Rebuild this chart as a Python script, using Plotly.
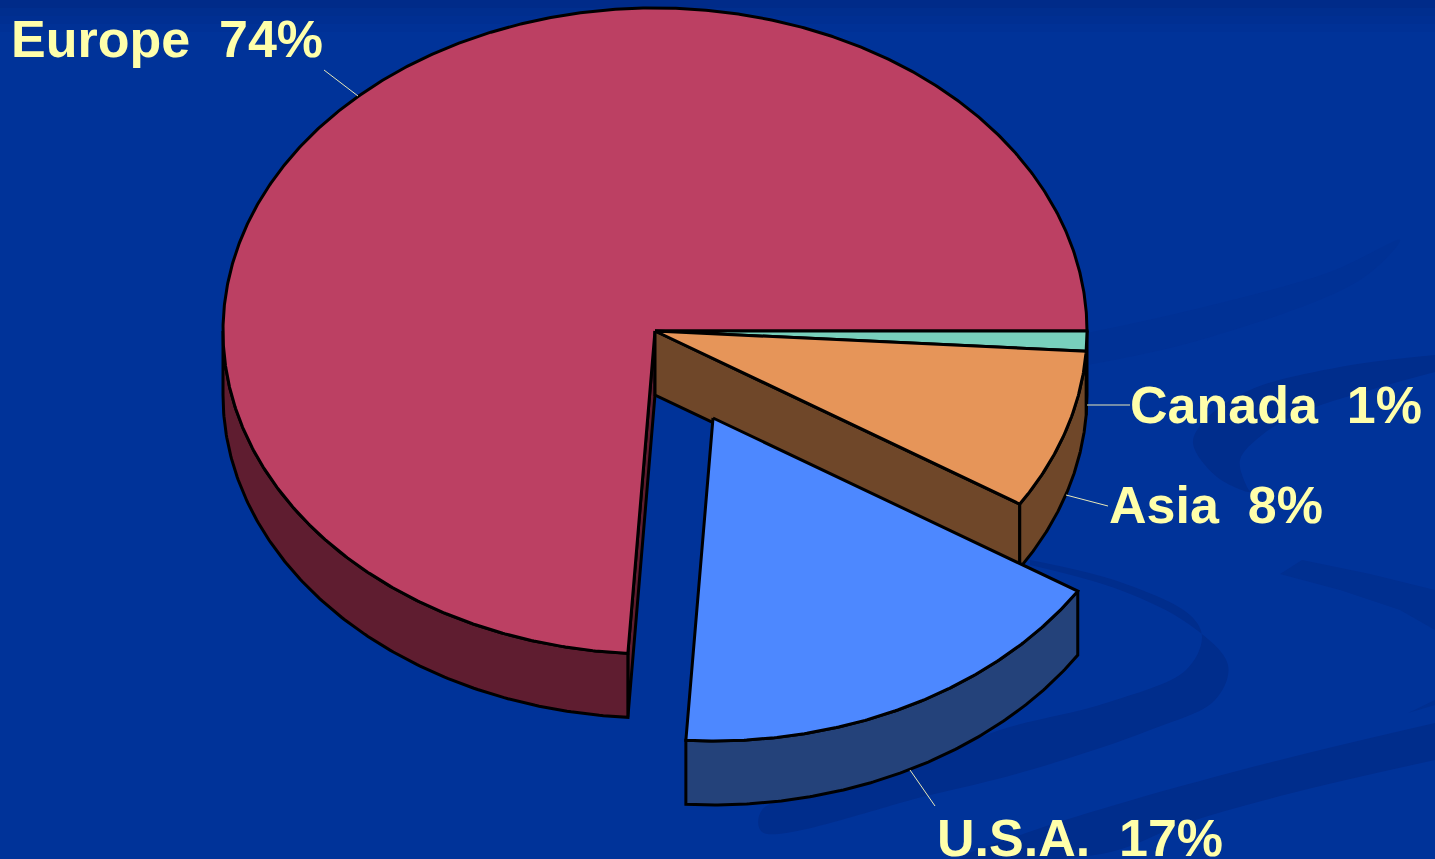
import numpy as np
import plotly.graph_objects as go

# Shipment shares by region, clockwise from the three o'clock position
regions = ["Canada", "Asia", "U.S.A.", "Europe"]
shares = [1, 8, 17, 74]

top_colors = ["#78D0BC", "#E69559", "#4D88FF", "#BC4063"]
side_colors = ["#3C6A5E", "#6F4729", "#24427A", "#5F1D30"]

# Pie geometry on a canvas measured in pixels
CX, CY = 655.0, 331.0
RX, RY = 432.0, 323.0
DEPTH = 64.0
EXPLODE = {"U.S.A.": (58.0, 87.0)}

W, H = 1435, 859
BG = "#003399"
BAND = "#002D8C"
BAND_SOFT = "#002F90"
BAND_FAINT = "#003195"
TEXT = "#FFFFAA"
LEADER = "#E8E8B8"

# Label anchors: left edge and vertical middle of each label
label_x = {"Europe": 11, "Canada": 1130, "Asia": 1109, "U.S.A.": 937}
label_y = {"Europe": 38.5, "Canada": 405, "Asia": 505, "U.S.A.": 838}

# Thin connectors from each label to its slice
leaders = {
    "Europe": ([324, 358], [70, 96]),
    "Canada": ([1087, 1130], [405, 405]),
    "Asia": ([1066, 1108], [495, 506]),
    "U.S.A.": ([910, 935], [770, 806]),
}

# Ribbons of the slide background
ribbons = [
    (BAND, [1435, 1340, 1250, 1205, 1193, 1217, 1250, 1247, 1240, 1262, 1300, 1370, 1435],
           [355, 367, 390, 420, 443, 477, 492, 487, 460, 435, 413, 390, 372]),
    (BAND, [1030, 1120, 1190, 1228, 1215, 1150, 1030, 930, 762, 762, 900, 1000, 1106, 1186, 1202, 1190, 1120, 1030],
           [565, 590, 625, 665, 700, 730, 770, 795, 832, 810, 770, 730, 703, 670, 637, 615, 582, 560]),
    (BAND, [1435, 1292, 1132, 1026, 960, 1106, 1186, 1292, 1435],
           [723, 757, 800, 833, 859, 853, 823, 793, 760]),
]
soft_ribbons = [
    (BAND_SOFT, [1280, 1302, 1370, 1435, 1435, 1400, 1340, 1280],
                [574, 560, 574, 590, 630, 610, 590, 574]),
    (BAND_SOFT, [1408, 1435, 1435, 1408],
                [713, 700, 705, 713]),
]
faint_ribbons = [
    (BAND_FAINT, [1087, 1200, 1330, 1400, 1360, 1200, 1087],
                 [333, 308, 272, 240, 280, 340, 365]),
]


def arc(a0, a1, cx, cy, n=160):
    t = np.radians(np.linspace(a0, a1, n))
    return cx + RX * np.cos(t), cy + RY * np.sin(t)


def poly(fig, xs, ys, fill, shape="linear", width=3, color="black"):
    fig.add_trace(go.Scatter(
        x=list(xs), y=list(ys), mode="lines", fill="toself", fillcolor=fill,
        line=dict(color=color, width=width, shape=shape),
        hoverinfo="skip", showlegend=False,
    ))


def wall(fig, a0, a1, cx, cy, fill):
    """Outer rim of a slice, only the part facing the viewer."""
    lo, hi = max(a0, 0), min(a1, 180)
    if hi <= lo:
        return
    x, y = arc(lo, hi, cx, cy)
    poly(fig, np.r_[x, x[::-1], x[0]], np.r_[y, y[::-1] + DEPTH, y[0]], fill)


def cut_face(fig, a, cx, cy, fill):
    """Flat face exposed along a slice's straight edge."""
    x = cx + RX * np.cos(np.radians(a))
    y = cy + RY * np.sin(np.radians(a))
    poly(fig, [cx, x, x, cx, cx], [cy, y, y + DEPTH, cy + DEPTH, cy], fill)


def top(fig, a0, a1, cx, cy, fill):
    x, y = arc(a0, a1, cx, cy, n=max(int(a1 - a0) * 3, 12))
    poly(fig, np.r_[cx, x, cx], np.r_[cy, y, cy], fill)


fig = go.Figure()

for colour, xs, ys in faint_ribbons + ribbons:
    poly(fig, xs, ys, colour, shape="spline", width=0, color=colour)
for colour, xs, ys in soft_ribbons:
    poly(fig, xs, ys, colour, width=0, color=colour)

edges = np.r_[0, np.cumsum(shares)] * 3.6
slices = {
    name: (edges[i], edges[i + 1], top_colors[i], side_colors[i])
    for i, name in enumerate(regions)
}

# Back to front: Europe, then the two small slices, then the pulled-out U.S.A.
a0, a1, tc, sc = slices["Europe"]
cut_face(fig, a0, CX, CY, sc)
wall(fig, a0, a1, CX, CY, sc)
top(fig, a0, a1, CX, CY, tc)

cut_face(fig, slices["Asia"][1], CX, CY, slices["Asia"][3])
for name in ["Canada", "Asia"]:
    a0, a1, tc, sc = slices[name]
    wall(fig, a0, a1, CX, CY, slices["Asia"][3])
for name in ["Canada", "Asia"]:
    a0, a1, tc, sc = slices[name]
    top(fig, a0, a1, CX, CY, tc)

a0, a1, tc, sc = slices["U.S.A."]
dx, dy = EXPLODE["U.S.A."]
wall(fig, a0, a1, CX + dx, CY + dy, sc)
top(fig, a0, a1, CX + dx, CY + dy, tc)

for name, (lx, ly) in leaders.items():
    fig.add_trace(go.Scatter(
        x=lx, y=ly, mode="lines", line=dict(color=LEADER, width=1),
        hoverinfo="skip", showlegend=False,
    ))

for name, share in zip(regions, shares):
    fig.add_annotation(
        x=label_x[name], y=label_y[name], xref="x", yref="y",
        text=f"{name}\u00a0\u00a0{share}%", showarrow=False,
        xanchor="left", yanchor="middle", borderpad=0, borderwidth=0,
        font=dict(family="Liberation Sans", size=52, color=TEXT, weight="bold"),
    )

# Slightly deeper blue fading out across the top of the slide
for y0, y1, alpha in [(0, 8, 0.35), (8, 16, 0.25), (16, 24, 0.15), (24, 32, 0.07)]:
    fig.add_shape(type="rect", x0=0, x1=W, y0=y0, y1=y1, xref="x", yref="y",
                  fillcolor=f"rgba(0,30,110,{alpha})", line_width=0, layer="below")

fig.update_layout(
    width=W, height=H, margin=dict(l=0, r=0, t=0, b=0),
    paper_bgcolor=BG, plot_bgcolor=BG, showlegend=False,
    xaxis=dict(range=[0, W], visible=False, fixedrange=True),
    yaxis=dict(range=[H, 0], visible=False, fixedrange=True),
)

fig.write_html("out.html", config=dict(displayModeBar=False))
